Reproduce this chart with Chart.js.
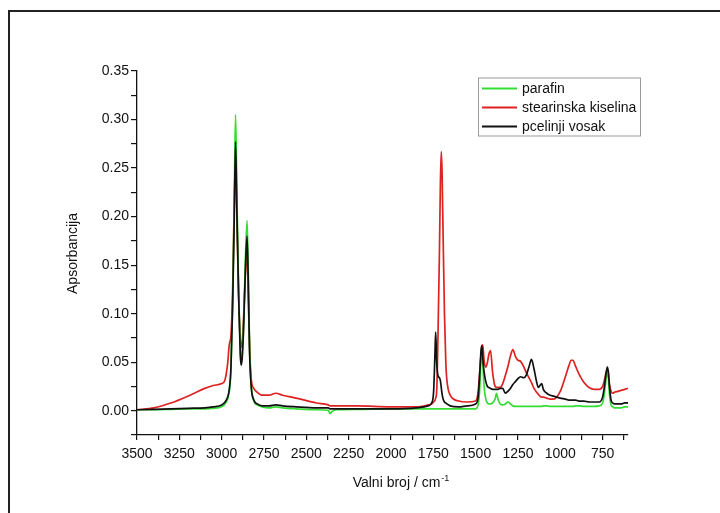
<!DOCTYPE html>
<html>
<head>
<meta charset="utf-8">
<script src="https://cdn.jsdelivr.net/npm/chart.js@4.4.1/dist/chart.umd.min.js"></script>
<style>
  html, body { margin: 0; padding: 0; background: #fff; }
  #wrap { position: relative; width: 720px; height: 513px; }
</style>
</head>
<body>
<div id="wrap"><canvas id="c" width="720" height="513"></canvas></div>
<script>
// ---- data ----
const seriesNames = ['parafin', 'stearinska kiselina', 'pcelinji vosak'];
const seriesColors = ['#33dd33', '#dd2222', '#111111'];

const wavenumbers = [
  3500, 3400, 3300, 3200, 3100, 3050, 3000, 2980, 2965, 2955, 2945, 2935, 2925, 2918, 2910, 2900,
  2890, 2885, 2878, 2870, 2860, 2850, 2843, 2835, 2825, 2810, 2790, 2760, 2720, 2680, 2640, 2560,
  2440, 2370, 2360, 2350, 2320, 2200, 2000, 1850, 1780, 1760, 1748, 1740, 1736, 1730, 1722, 1714,
  1708, 1703, 1698, 1692, 1684, 1676, 1670, 1650, 1600, 1550, 1500, 1485, 1475, 1468, 1463, 1458,
  1450, 1440, 1430, 1422, 1412, 1400, 1385, 1377, 1368, 1355, 1340, 1325, 1310, 1295, 1280, 1265,
  1250, 1235, 1215, 1200, 1185, 1170, 1155, 1140, 1130, 1120, 1110, 1100, 1080, 1060, 1040, 1000,
  970, 950, 935, 925, 910, 890, 860, 830, 800, 770, 750, 740, 730, 722, 716, 710,
  700, 690, 680, 660, 640, 620, 600
];

const parafin = [
  0.001, 0.001, 0.0015, 0.002, 0.002, 0.0025, 0.004, 0.007, 0.012, 0.02, 0.042, 0.11, 0.225, 0.305, 0.225, 0.125,
  0.062, 0.05, 0.06, 0.092, 0.155, 0.196, 0.145, 0.065, 0.025, 0.01, 0.006, 0.004, 0.003, 0.004, 0.003, 0.002,
  0.001, 0.0005, -0.003, -0.001, 0.001, 0.0015, 0.002, 0.002, 0.002, 0.002, 0.002, 0.002, 0.002, 0.002, 0.002, 0.002,
  0.002, 0.002, 0.002, 0.002, 0.002, 0.002, 0.002, 0.002, 0.002, 0.002, 0.002, 0.006, 0.025, 0.055, 0.063, 0.05,
  0.025, 0.012, 0.008, 0.007, 0.007, 0.008, 0.012, 0.018, 0.012, 0.007, 0.006, 0.007, 0.009, 0.007, 0.005, 0.0045,
  0.0045, 0.0045, 0.0045, 0.0045, 0.0045, 0.0045, 0.0045, 0.0045, 0.0045, 0.0045, 0.0045, 0.005, 0.005, 0.0045, 0.0045, 0.0045,
  0.0045, 0.0045, 0.0045, 0.0045, 0.005, 0.005, 0.0045, 0.0045, 0.0045, 0.005, 0.008, 0.017, 0.032, 0.04, 0.034, 0.018,
  0.006, 0.004, 0.003, 0.003, 0.003, 0.004, 0.004
];

const stearinska = [
  0.001, 0.003, 0.008, 0.015, 0.023, 0.026, 0.028, 0.032, 0.048, 0.068, 0.078, 0.125, 0.22, 0.255, 0.2, 0.12,
  0.072, 0.065, 0.072, 0.097, 0.14, 0.165, 0.12, 0.065, 0.032, 0.023, 0.019, 0.016, 0.016, 0.018, 0.016, 0.013,
  0.008, 0.006, 0.005, 0.005, 0.005, 0.005, 0.004, 0.004, 0.006, 0.007, 0.009, 0.011, 0.013, 0.02, 0.08, 0.16,
  0.235, 0.267, 0.245, 0.18, 0.1, 0.05, 0.032, 0.016, 0.01, 0.009, 0.01, 0.02, 0.042, 0.058, 0.066, 0.068,
  0.052, 0.045, 0.05, 0.058, 0.062, 0.04, 0.025, 0.024, 0.024, 0.024, 0.028, 0.036, 0.045, 0.056, 0.063, 0.056,
  0.052, 0.051, 0.045, 0.039, 0.034, 0.029, 0.023, 0.019, 0.017, 0.015, 0.014, 0.014, 0.013, 0.012, 0.012, 0.02,
  0.035, 0.046, 0.052, 0.052, 0.046, 0.038, 0.029, 0.024, 0.022, 0.022, 0.025, 0.031, 0.039, 0.042, 0.038, 0.028,
  0.02, 0.018, 0.019, 0.02, 0.021, 0.022, 0.023
];

const vosak = [
  0.001, 0.0015, 0.002, 0.0025, 0.003, 0.004, 0.006, 0.009, 0.014, 0.022, 0.045, 0.11, 0.205, 0.277, 0.205, 0.12,
  0.058, 0.047, 0.056, 0.087, 0.145, 0.18, 0.135, 0.06, 0.024, 0.011, 0.007, 0.005, 0.005, 0.006, 0.005, 0.004,
  0.003, 0.003, 0.002, 0.002, 0.002, 0.002, 0.002, 0.003, 0.005, 0.008, 0.02, 0.06, 0.081, 0.05, 0.036, 0.034,
  0.031, 0.024, 0.017, 0.012, 0.009, 0.008, 0.007, 0.005, 0.004, 0.005, 0.007, 0.014, 0.04, 0.062, 0.067, 0.055,
  0.04, 0.03, 0.025, 0.024, 0.023, 0.022, 0.022, 0.022, 0.022, 0.023, 0.023, 0.018, 0.02, 0.023, 0.027, 0.03,
  0.033, 0.035, 0.034, 0.037, 0.045, 0.053, 0.043, 0.03, 0.024, 0.026, 0.028, 0.022, 0.018, 0.016, 0.015, 0.013,
  0.012, 0.011, 0.011, 0.011, 0.011, 0.01, 0.01, 0.009, 0.009, 0.009, 0.014, 0.024, 0.038, 0.045, 0.04, 0.026,
  0.011, 0.008, 0.007, 0.007, 0.007, 0.008, 0.008
];

const xMin = 600, xMax = 3500, xStep = 125, xLabelStep = 250;
const yMin = -0.025, yMax = 0.35, yStep = 0.025, yLabelStep = 0.05;
const xTitle = 'Valni broj / cm';
const xTitleSup = '-1';
const yTitle = 'Apsorbancija';

// ---- build datasets ----
const allSeries = [parafin, stearinska, vosak];
const drawOrder = [1, 2, 0]; // black on top, red at bottom
const datasets = allSeries.map((vals, i) => ({
  label: seriesNames[i],
  data: wavenumbers.map((w, k) => ({ x: w, y: vals[k] })),
  borderColor: seriesColors[i],
  backgroundColor: seriesColors[i],
  borderWidth: 1.7,
  pointRadius: 0,
  fill: false,
  cubicInterpolationMode: 'monotone',
  order: drawOrder[i]
}));

const FONT = '"Liberation Sans", Arial, sans-serif';

const decorPlugin = {
  id: 'decor',
  beforeDraw(chart) {
    const ctx = chart.ctx;
    ctx.save();
    ctx.fillStyle = '#ffffff';
    ctx.fillRect(0, 0, chart.width, chart.height);
    // outer frame (top and left edges visible)
    ctx.fillStyle = '#222222';
    ctx.fillRect(8, 10, chart.width - 8, 2);
    ctx.fillRect(8, 10, 2, chart.height - 10);
    ctx.restore();
  },
  afterDraw(chart) {
    const ctx = chart.ctx;
    const a = chart.chartArea;
    ctx.save();
    ctx.fillStyle = '#111';
    // y title
    ctx.font = '14px ' + FONT;
    ctx.textAlign = 'center';
    ctx.textBaseline = 'middle';
    ctx.save();
    ctx.translate(a.left - 64, (a.top + a.bottom) / 2 + 0.5);
    ctx.rotate(-Math.PI / 2);
    ctx.fillText(yTitle, 0, 0);
    ctx.restore();
    // x title with superscript
    ctx.textAlign = 'left';
    ctx.textBaseline = 'alphabetic';
    ctx.font = '14px ' + FONT;
    const w1 = ctx.measureText(xTitle).width;
    ctx.font = '9px ' + FONT;
    const w2 = ctx.measureText(xTitleSup).width;
    const cx = (a.left + a.right) / 2 + 18;
    const x0 = cx - (w1 + w2) / 2;
    const base = a.bottom + 52;
    ctx.font = '14px ' + FONT;
    ctx.fillText(xTitle, x0, base);
    ctx.font = '9px ' + FONT;
    ctx.fillText(xTitleSup, x0 + w1 + 1, base - 6);

    // legend box
    const bx = a.right - 150, by = a.top + 6.5, bw = 162, bh = 58;
    ctx.strokeStyle = '#9a9a9a';
    ctx.lineWidth = 1;
    ctx.strokeRect(bx + 0.5, by + 0.5, bw, bh);
    ctx.font = '14px ' + FONT;
    ctx.textBaseline = 'middle';
    chart.data.datasets.forEach((ds, i) => {
      const ry = by + 11 + i * 19;
      ctx.strokeStyle = ds.borderColor;
      ctx.lineWidth = 2;
      ctx.beginPath();
      ctx.moveTo(bx + 4, ry);
      ctx.lineTo(bx + 39, ry);
      ctx.stroke();
      ctx.fillStyle = '#111';
      ctx.fillText(ds.label, bx + 44, ry + 1);
    });
    ctx.restore();
  }
};

new Chart(document.getElementById('c'), {
  type: 'line',
  data: { datasets },
  options: {
    responsive: false,
    animation: false,
    devicePixelRatio: 1,
    layout: { padding: { left: 0, right: 92, top: 71, bottom: 0 } },
    plugins: { legend: { display: false }, tooltip: { enabled: false } },
    scales: {
      x: {
        type: 'linear',
        reverse: true,
        min: xMin,
        max: xMax,
        afterFit: (s) => { s.height = 78; },
        border: { display: true, color: '#111', width: 1.3 },
        grid: { drawOnChartArea: false, drawTicks: true, tickLength: 5, color: '#111', lineWidth: 1.2 },
        ticks: {
          stepSize: xStep,
          includeBounds: false,
          autoSkip: false,
          maxRotation: 0,
          padding: 6,
          color: '#111',
          font: { family: FONT, size: 14 },
          callback: (v) => (Math.round(v) % xLabelStep === 0 ? String(Math.round(v)) : '')
        },
        title: { display: false }
      },
      y: {
        type: 'linear',
        min: yMin,
        max: yMax,
        afterFit: (s) => { s.width = 137; },
        border: { display: true, color: '#111', width: 1.3 },
        grid: { drawOnChartArea: false, drawTicks: true, tickLength: 6, color: '#111', lineWidth: 1.2 },
        ticks: {
          stepSize: yStep,
          autoSkip: false,
          padding: 2,
          color: '#111',
          font: { family: FONT, size: 14 },
          callback: (v) => {
            const r = Math.round(v * 1000);
            return (r % Math.round(yLabelStep * 1000) === 0) ? (r / 1000).toFixed(2) : '';
          }
        },
        title: { display: false }
      }
    }
  },
  plugins: [decorPlugin]
});
</script>
</body>
</html>
